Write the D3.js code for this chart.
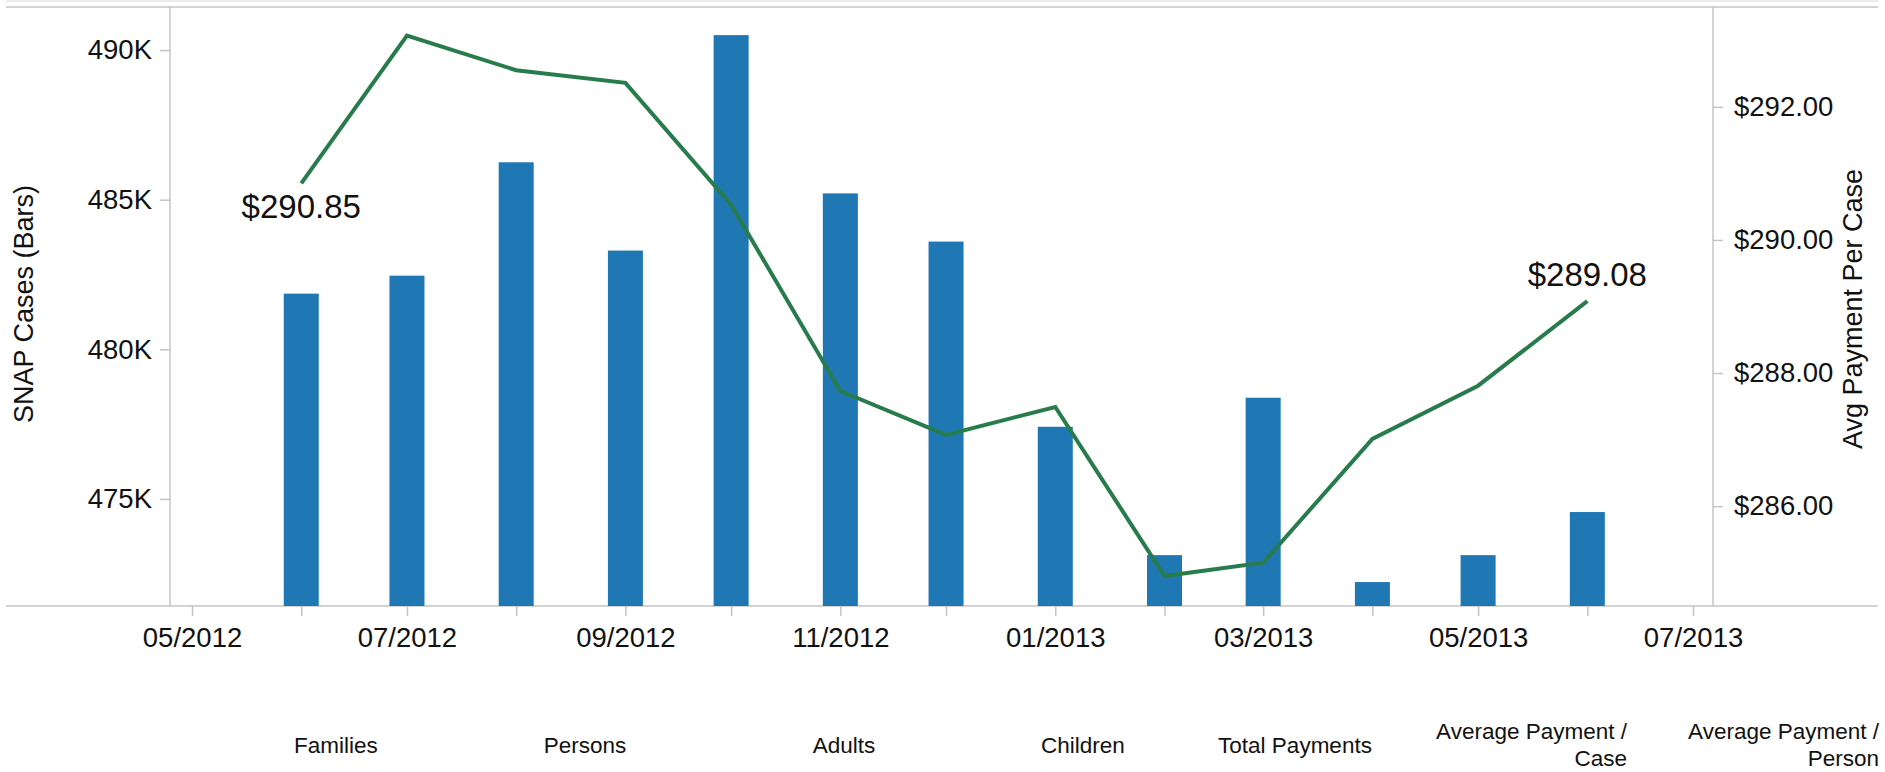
<!DOCTYPE html>
<html>
<head>
<meta charset="utf-8">
<script src="https://cdn.jsdelivr.net/npm/d3@7"></script>
<style>
  html, body { margin: 0; padding: 0; background: #fff; }
  svg { display: block; font-family: "Liberation Sans", Arial, sans-serif; }
</style>
</head>
<body>
<svg id="chart" width="1885" height="772"></svg>
<script>
// months shown (first of each month), Jun 2012 .. Jun 2013
var months = ["2012-06", "2012-07", "2012-08", "2012-09", "2012-10", "2012-11", "2012-12",
              "2013-01", "2013-02", "2013-03", "2013-04", "2013-05", "2013-06"];

// SNAP cases (bars)
var cases = [481860, 482460, 486250, 483300, 490500, 485210, 483600,
             477410, 473120, 478380, 472220, 473120, 474560];

// avg payment per case (line)
var avgPayment = [290.85, 293.07, 292.55, 292.36, 290.53, 287.73, 287.07,
                  287.49, 284.95, 285.15, 287.01, 287.81, 289.08];

var leftTicks = [475000, 480000, 485000, 490000];
var rightTicks = [286, 288, 290, 292];

// table header row under the chart
var headers = [["Families"], ["Persons"], ["Adults"], ["Children"], ["Total Payments"],
               ["Average Payment /", "Case"], ["Average Payment /", "Person"]];
var headerX = [336, 585, 844, 1083, 1295, 1627, 1879];
var headerAnchor = ["middle", "middle", "middle", "middle", "middle", "end", "end"];

(function () {
    var parse = d3.timeParse("%Y-%m");
    var data = months.map(function (m, i) {
        return { date: parse(m), cases: cases[i], pay: avgPayment[i] };
    });

    var svg = d3.select("#chart");
    var pLeft = 170, pRight = 1713, pTop = 7, pBottom = 606;
    var axisColor = "#c4c4c4";

    var x = d3.scaleTime()
        .domain([new Date(2012, 3, 24, 18), new Date(2013, 6, 6, 16)])
        .range([pLeft, pRight]);
    var yL = d3.scaleLinear().domain([471420, 491440]).range([pBottom, pTop]);
    var yR = d3.scaleLinear().domain([284.5, 293.5]).range([pBottom, pTop]);

    // thin band + frame lines
    svg.append("rect").attr("x", 6).attr("y", 0).attr("width", 1872).attr("height", 2)
        .attr("fill", "#ececf0");
    svg.append("line").attr("x1", 6).attr("x2", 1878).attr("y1", pTop).attr("y2", pTop)
        .attr("stroke", axisColor).attr("stroke-width", 1.5);
    svg.append("line").attr("x1", 6).attr("x2", 1878).attr("y1", pBottom).attr("y2", pBottom)
        .attr("stroke", axisColor).attr("stroke-width", 1.5);
    svg.append("line").attr("x1", pLeft).attr("x2", pLeft).attr("y1", pTop).attr("y2", pBottom)
        .attr("stroke", axisColor).attr("stroke-width", 1.5);
    svg.append("line").attr("x1", pRight).attr("x2", pRight).attr("y1", pTop).attr("y2", pBottom)
        .attr("stroke", axisColor).attr("stroke-width", 1.5);

    // bars
    var barW = 35;
    svg.append("g").selectAll("rect")
        .data(data)
        .enter().append("rect")
        .attr("x", function (d) { return x(d.date) - barW / 2; })
        .attr("y", function (d) { return yL(d.cases); })
        .attr("width", barW)
        .attr("height", function (d) { return pBottom - yL(d.cases); })
        .attr("fill", "#1f77b4");

    // line
    var line = d3.line()
        .x(function (d) { return x(d.date); })
        .y(function (d) { return yR(d.pay); });
    svg.append("path")
        .datum(data)
        .attr("d", line)
        .attr("fill", "none")
        .attr("stroke", "#287c4c")
        .attr("stroke-width", 4)
        .attr("stroke-linejoin", "miter");

    // end labels
    var first = data[0], last = data[data.length - 1];
    svg.append("text")
        .attr("x", x(first.date)).attr("y", yR(first.pay) + 35)
        .attr("text-anchor", "middle").attr("font-size", "33px").attr("fill", "#111")
        .text(d3.format("$.2f")(first.pay));
    svg.append("text")
        .attr("x", x(last.date)).attr("y", yR(last.pay) - 15)
        .attr("text-anchor", "middle").attr("font-size", "33px").attr("fill", "#111")
        .text(d3.format("$.2f")(last.pay));

    function styleAxis(g) {
        g.select(".domain").remove();
        g.selectAll(".tick line").attr("stroke", axisColor).attr("stroke-width", 1.5);
        g.selectAll(".tick text").attr("fill", "#111").attr("font-size", "27.5px")
            .attr("font-family", "Liberation Sans, Arial, sans-serif");
    }

    // left axis
    svg.append("g")
        .attr("transform", "translate(" + pLeft + ",0)")
        .call(d3.axisLeft(yL).tickValues(leftTicks).tickSize(10).tickPadding(8)
            .tickFormat(function (v) { return v / 1000 + "K"; }))
        .call(styleAxis);

    // right axis
    svg.append("g")
        .attr("transform", "translate(" + pRight + ",0)")
        .call(d3.axisRight(yR).tickValues(rightTicks).tickSize(10).tickPadding(11)
            .tickFormat(d3.format("$.2f")))
        .call(styleAxis);

    // bottom axis: monthly ticks, label May, Jul, Sep, ...
    svg.append("g")
        .attr("transform", "translate(0," + pBottom + ")")
        .call(d3.axisBottom(x).ticks(d3.timeMonth.every(1)).tickSize(10).tickPadding(11)
            .tickFormat(function (d) { return d.getMonth() % 2 === 0 ? d3.timeFormat("%m/%Y")(d) : ""; }))
        .call(styleAxis);

    // axis titles
    svg.append("text")
        .attr("transform", "translate(33,304) rotate(-90)")
        .attr("text-anchor", "middle").attr("font-size", "27px").attr("fill", "#111")
        .text("SNAP Cases (Bars)");
    svg.append("text")
        .attr("transform", "translate(1862,309) rotate(-90)")
        .attr("text-anchor", "middle").attr("font-size", "27px").attr("fill", "#111")
        .text("Avg Payment Per Case");

    // header labels
    var hg = svg.append("g").attr("font-size", "22.5px").attr("fill", "#111");
    headers.forEach(function (lines, i) {
        var y0 = lines.length === 1 ? 753 : 739;
        var t = hg.append("text").attr("text-anchor", headerAnchor[i]);
        lines.forEach(function (s, j) {
            t.append("tspan").attr("x", headerX[i]).attr("y", y0 + j * 27).text(s);
        });
    });
})();
</script>
</body>
</html>
